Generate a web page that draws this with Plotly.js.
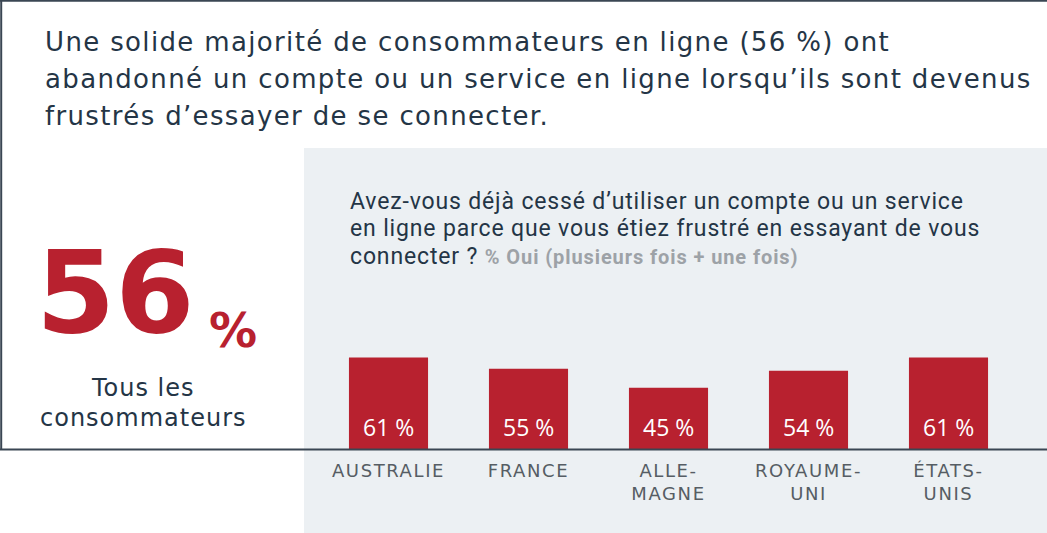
<!DOCTYPE html>
<html><head><meta charset="utf-8">
<script src="https://cdn.plot.ly/plotly-3.0.1.min.js"></script>
<style>html,body{margin:0;padding:0;background:#fff}#chart{width:1047px;height:533px}</style>
</head><body><div id="chart"></div>
<script>
const categories = ["AUSTRALIE", "FRANCE", "ALLEMAGNE", "ROYAUME-UNI", "ÉTATS-UNIS"];
const tickLabels = [["AUSTRALIE"], ["FRANCE"], ["ALLE-", "MAGNE"], ["ROYAUME-", "UNI"], ["ÉTATS-", "UNIS"]];
const values = [61, 55, 45, 54, 61];
const headline = 56;
const titleLines = [
  "Une solide majorité de consommateurs en ligne (56 %) ont",
  "abandonné un compte ou un service en ligne lorsqu’ils sont devenus",
  "frustrés d’essayer de se connecter."
];
const questionLines = [
  "Avez-vous déjà cessé d’utiliser un compte ou un service",
  "en ligne parce que vous étiez frustré en essayant de vous",
  "connecter ? "
];
const questionNote = "% Oui (plusieurs fois + une fois)";
const headlineCaption = ["Tous les", "consommateurs"];

const W = 1047, H = 533;
const px = x => x / W;
const py = y => 1 - y / H;
const RED = "#b8212f", NAVY = "#243546", LINE = "#3a4653";
const titleFont = "DejaVu Sans";
const sp = (t, ls) => "<span style='letter-spacing:" + ls + "px'>" + t + "</span>";

const annotations = [];
const tY = [42, 79, 116];
titleLines.forEach((t, i) => annotations.push({
  text: sp(t, 1.35), xref: "paper", yref: "paper", x: px(43), y: py(tY[i]),
  xanchor: "left", yanchor: "middle", showarrow: false,
  font: {family: titleFont, size: 26, color: NAVY}
}));
const qY = [201, 228, 256];
questionLines.forEach((t, i) => annotations.push({
  text: i === 2
    ? sp(t, 0.85) + "<span style='color:#9da2a7;font-size:20px;font-weight:bold;letter-spacing:0.9px'>" + questionNote + "</span>"
    : sp(t, 0.85),
  xref: "paper", yref: "paper", x: px(348), y: py(qY[i]),
  xanchor: "left", yanchor: "middle", showarrow: false,
  font: {family: "Roboto", size: 23, color: NAVY}
}));
annotations.push({
  text: "<b>" + headline + "</b>", xref: "paper", yref: "paper", x: px(34), y: py(292),
  xanchor: "left", yanchor: "middle", showarrow: false,
  font: {family: titleFont, size: 114, color: RED}
});
annotations.push({
  text: "<b>%</b>", xref: "paper", yref: "paper", x: px(233), y: py(330),
  xanchor: "center", yanchor: "middle", showarrow: false,
  font: {family: titleFont, size: 48, color: RED}
});
headlineCaption.forEach((t, i) => annotations.push({
  text: sp(t, 1), xref: "paper", yref: "paper", x: px(143), y: py(388 + 30 * i),
  xanchor: "center", yanchor: "middle", showarrow: false,
  font: {family: titleFont, size: 24, color: NAVY}
}));
categories.forEach((c, i) => annotations.push({
  text: values[i] + " %", xref: "x", yref: "paper", x: c, y: py(427),
  xanchor: "center", yanchor: "middle", showarrow: false,
  font: {family: "Open Sans", size: 23, color: "#ffffff"}
}));

const trace = {
  type: "bar", x: categories, y: values, width: 0.565,
  marker: {color: RED, line: {width: 0}},
  hoverinfo: "skip"
};

const yBottom = 12.8, pxPerUnit = 1.9;
const domTop = 150, domBot = 449;
const layout = {
  width: W, height: H,
  margin: {l: 0, r: 0, t: 0, b: 0, pad: 0},
  paper_bgcolor: "#ffffff", plot_bgcolor: "rgba(0,0,0,0)",
  showlegend: false,
  xaxis: {
    domain: [px(304), 1], range: [-84.5 / 140, -84.5 / 140 + 743 / 140],
    type: "category", tickvals: categories,
    ticktext: tickLabels.map(l => l.map(s => sp(s, 1.6)).join("<br>")),
    showgrid: false, zeroline: false, showline: false, ticks: "",
    ticklabelstandoff: 9,
    tickfont: {family: "DejaVu Sans", size: 18, color: "#565d64"}
  },
  yaxis: {
    domain: [py(domBot), py(domTop)],
    range: [yBottom, yBottom + (domBot - domTop) / pxPerUnit],
    visible: false, showgrid: false, zeroline: false
  },
  shapes: [
    {type: "rect", xref: "paper", yref: "paper", x0: px(304), x1: 1, y0: 0, y1: py(148),
     fillcolor: "#ecf0f3", line: {width: 0}, layer: "below"},
    {type: "line", xref: "paper", yref: "paper", x0: 0, x1: 1, y0: py(0.8), y1: py(0.8),
     line: {color: LINE, width: 2}, layer: "above"},
    {type: "line", xref: "paper", yref: "paper", x0: px(1.2), x1: px(1.2), y0: py(0), y1: py(449.5),
     line: {color: LINE, width: 2}, layer: "above"},
    {type: "line", xref: "paper", yref: "paper", x0: 0, x1: 1, y0: py(449.5), y1: py(449.5),
     line: {color: LINE, width: 2}, layer: "above"}
  ],
  annotations: annotations
};
Plotly.newPlot("chart", [trace], layout, {displayModeBar: false, staticPlot: true});
</script></body></html>
